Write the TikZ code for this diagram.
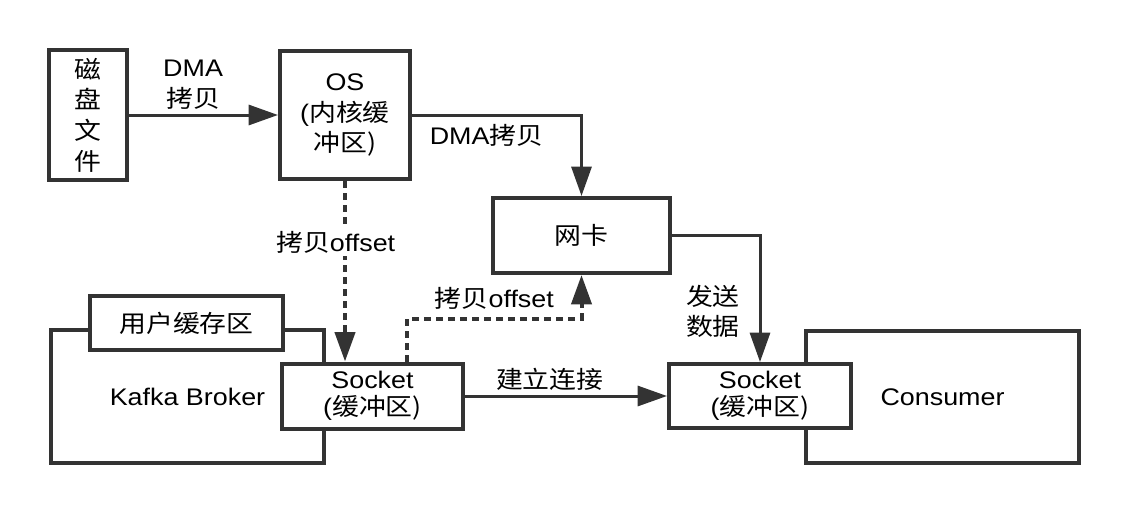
\documentclass[tikz,border=0pt]{standalone}
\usepackage{fontspec}
\setmainfont{Liberation Sans}[FakeStretch=1.12]
\newfontfamily\cjk{Noto Sans CJK SC}[FakeStretch=1.12]
\usetikzlibrary{arrows.meta}
\definecolor{ink}{HTML}{333333}

\begin{document}
\begin{tikzpicture}[x=0.75pt,y=-0.75pt,
    box/.style={draw=ink,line width=3pt,fill=white,align=center,inner sep=0pt,font=\fontsize{18}{23}\selectfont},
    link/.style={draw=ink,line width=2.25pt,-{Triangle[length=22pt,width=15pt]}},
    dots/.style={link,line width=3pt,dash pattern=on 5pt off 4pt},
    lbl/.style={font=\fontsize{18}{23}\selectfont,align=center,inner sep=2pt}]
    \useasboundingbox (0,0) rectangle (1130,514);

    \node[box,font=\cjk\fontsize{18}{23}\selectfont,minimum width=58.5pt,minimum height=97.5pt] (disk) at (88,115) {磁\\盘\\文\\件};
    \node[box,minimum width=97.5pt,minimum height=96pt] (os) at (345,115) {OS\\(\cjk 内核缓\\\cjk 冲区)};
    \node[box,minimum width=132.75pt,minimum height=56.25pt] (nic) at (581.5,235.5) {\cjk 网卡};

    \node[box,minimum width=204.75pt,minimum height=99.75pt] (broker) at (187.5,396.5) {Kafka Broker};
    \node[box,minimum width=144.75pt,minimum height=40.5pt] (userbuf) at (186.5,323) {\cjk 用户缓存区};
    \node[box,font=\fontsize{18}{20}\selectfont,minimum width=135.75pt,minimum height=48.75pt] (sockA) at (372.5,396) {Socket\\(\cjk 缓冲区)};

    \node[box,minimum width=204.75pt,minimum height=99pt] (consumer) at (942.5,397) {Consumer};
    \node[box,font=\fontsize{18}{20}\selectfont,minimum width=136.5pt,minimum height=48pt] (sockB) at (760,396) {Socket\\(\cjk 缓冲区)};

    \draw[link] (disk) -- (os) node[lbl,pos=0.43,above=1pt] {DMA\\\cjk 拷贝};
    \draw[link] (os) -| (nic) node[lbl,pos=0.22,below=4pt] {DMA\cjk 拷贝};
    \draw[dots] (os.south) -- (os.south |- sockA.north)
      node[lbl,pos=0.34,fill=white,xshift=-7pt] {\cjk 拷贝\rmfamily offset};
    \draw[dots] ([xshift=26pt]sockA.north) -- ++(0,-43) -| (nic.south)
      node[lbl,pos=0.25,above=3pt] {\cjk 拷贝\rmfamily offset};
    \draw[link] (sockA) -- (sockB) node[lbl,pos=0.42,above=1pt] {\cjk 建立连接};
    \draw[link] (nic) -| (sockB) node[lbl,pos=0.8,left=12pt] {\cjk 发送\\\cjk 数据};
\end{tikzpicture}
\end{document}
